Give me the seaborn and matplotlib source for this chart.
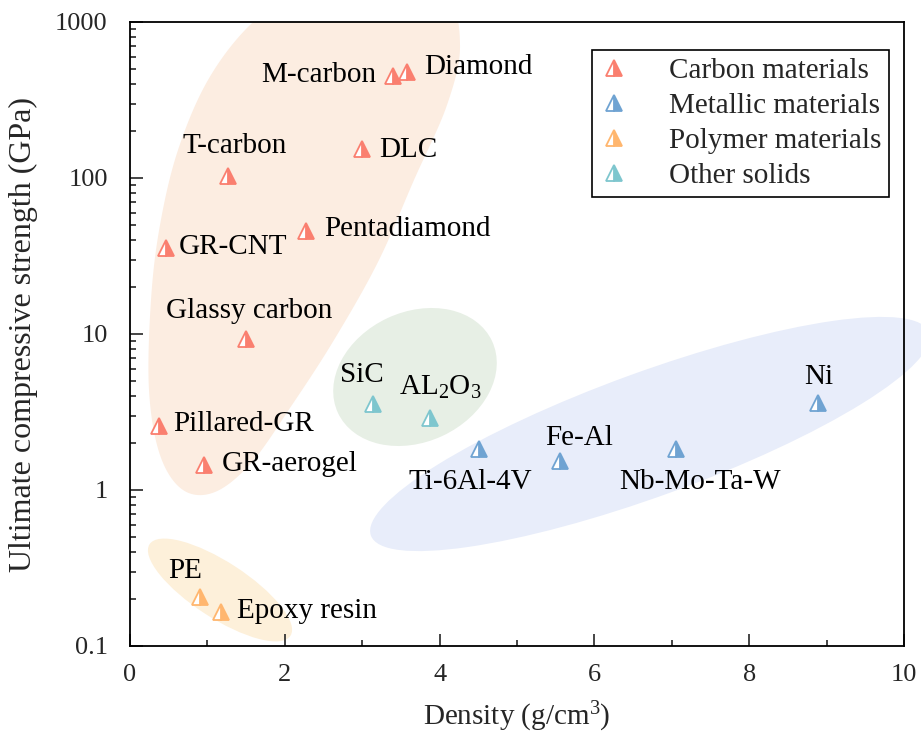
import matplotlib
matplotlib.use("Agg")
import numpy as np
import pandas as pd
import matplotlib.pyplot as plt
import seaborn as sns
from matplotlib.patches import Ellipse, Polygon
from matplotlib.path import Path
from matplotlib.lines import Line2D
from matplotlib.transforms import Affine2D
from matplotlib.ticker import FixedLocator, MultipleLocator, NullFormatter, LogLocator

# ---- data -------------------------------------------------------------
materials = ["M-carbon", "Diamond", "DLC", "T-carbon", "Pentadiamond", "GR-CNT",
             "Glassy carbon", "Pillared-GR", "GR-aerogel",
             "Ti-6Al-4V", "Fe-Al", "Nb-Mo-Ta-W", "Ni",
             "PE", "Epoxy resin",
             "SiC", r"AL$_2$O$_3$"]
density = [3.40, 3.58, 3.00, 1.27, 2.27, 0.47,
           1.50, 0.37, 0.96,
           4.51, 5.56, 7.05, 8.89,
           0.90, 1.18,
           3.14, 3.88]
strength = [451, 478, 153, 103, 45.7, 35.6,
            9.3, 2.57, 1.45,
            1.83, 1.53, 1.83, 3.61,
            0.206, 0.165,
            3.56, 2.90]
group = ["Carbon materials"] * 9 + ["Metallic materials"] * 4 + \
        ["Polymer materials"] * 2 + ["Other solids"] * 2

groups = ["Carbon materials", "Metallic materials", "Polymer materials", "Other solids"]
colors = ["#FA7F6F", "#6FA3D2", "#FFB66E", "#7EC6CE"]

x_ticks = [0, 2, 4, 6, 8, 10]
y_ticks = [0.1, 1, 10, 100, 1000]
y_tick_labels = ["0.1", "1", "10", "100", "1000"]

df = pd.DataFrame({"material": materials, "density": density,
                   "strength": strength, "group": group})

# label placement: (dx, dy) in pixels from the marker, horizontal alignment
label_style = {
    "M-carbon": (-17, 1, "right"),
    "Diamond": (17, 5, "left"),
    "DLC": (17, -1, "left"),
    "T-carbon": (6, 30, "center"),
    "Pentadiamond": (18, 2, "left"),
    "GR-CNT": (12, 1, "left"),
    "Glassy carbon": (3, 28, "center"),
    "Pillared-GR": (15, 2, "left"),
    "GR-aerogel": (17, 1, "left"),
    "Ti-6Al-4V": (-9, -33, "center"),
    "Fe-Al": (19, 23, "center"),
    "Nb-Mo-Ta-W": (24, -33, "center"),
    "Ni": (1, 26, "center"),
    "PE": (-15, 26, "center"),
    "Epoxy resin": (16, 1, "left"),
    "SiC": (-11, 29, "center"),
    r"AL$_2$O$_3$": (10, 30, "center"),
}

# ---- style ------------------------------------------------------------
sns.set_style("ticks")
plt.rcParams["font.family"] = ["Liberation Serif", "DejaVu Serif"]
plt.rcParams["mathtext.fontset"] = "custom"
plt.rcParams["mathtext.rm"] = "Liberation Serif"
plt.rcParams["mathtext.it"] = "Liberation Serif:italic"

W, H = 921, 733
fig = plt.figure(figsize=(W / 100, H / 100), dpi=100)
ax_l, ax_r, ax_t, ax_b = 130, 904, 22, 646
ax = fig.add_axes([ax_l / W, (H - ax_b) / H, (ax_r - ax_l) / W, (ax_b - ax_t) / H])
ax_w, ax_h = ax_r - ax_l, ax_b - ax_t

# shaded group regions, defined in axes pixel units (origin at lower-left corner)
px = Affine2D().scale(1 / ax_w, 1 / ax_h) + ax.transAxes


def smooth_closed(points, samples=40):
    """Densely sampled closed Catmull-Rom curve through the given points."""
    p = np.asarray(points, float)
    n = len(p)
    t = np.linspace(0, 1, samples, endpoint=False)[:, None]
    out = []
    for i in range(n):
        p0, p1, p2, p3 = p[i - 1], p[i], p[(i + 1) % n], p[(i + 2) % n]
        c1, c2 = p1 + (p2 - p0) / 6, p2 - (p3 - p1) / 6
        out.append((1 - t) ** 3 * p1 + 3 * (1 - t) ** 2 * t * c1
                   + 3 * (1 - t) * t ** 2 * c2 + t ** 3 * p2)
    return np.vstack(out)


carbon_outline = [(300, -10), (380, -30), (445, -5), (460, 45), (447, 105),
                  (414, 180), (378, 262), (334, 340), (292, 405), (252, 462),
                  (215, 492), (183, 490), (160, 455), (149, 390), (151, 300),
                  (160, 225), (178, 150), (208, 80), (250, 25)]
carbon_xy = smooth_closed([(x - ax_l, ax_b - y) for x, y in carbon_outline])
carbon_xy[:, 1] = np.minimum(carbon_xy[:, 1], ax_h)   # keep inside the frame
ax.add_patch(Polygon(carbon_xy, closed=True, transform=px,
                     facecolor="#FCEDE1", edgecolor="none", zorder=0))

regions = [
    ((285, 269), 170, 130, 25, "#E7EFE5", True),     # other solids
    ((520, 212), 594, 124, 20, "#E8EDFA", False),    # metallic
    ((90, 56), 168, 56, -33, "#FDF0DA", True),       # polymer
]
for (cx, cy), w, h, ang, fc, clip in regions:
    ax.add_patch(Ellipse((cx, cy), w, h, angle=ang, transform=px, facecolor=fc,
                         edgecolor="none", zorder=0, clip_on=clip))

palette = dict(zip(groups, colors))
sns.lineplot(data=df, x="density", y="strength", hue="group", hue_order=groups,
             palette=palette, units="material", estimator=None, sort=False,
             linestyle="", marker="^", markersize=12, markeredgewidth=1.3,
             fillstyle="right", markerfacecoloralt="white", legend=False,
             ax=ax, zorder=3)
for line in ax.lines:
    line.set_markeredgecolor(line.get_color())
    line.set_markerfacecolor(line.get_color())

ax.set_yscale("log")
ax.set_xlim(0, 10)
ax.set_ylim(0.1, 1000)

for name, xv, yv in zip(materials, density, strength):
    dx, dy, ha = label_style[name]
    ax.annotate(name, (xv, yv), xytext=(dx, dy), textcoords="offset pixels",
                ha=ha, va="center", fontsize=21, color="black", zorder=4)

ax.xaxis.set_major_locator(FixedLocator(x_ticks))
ax.xaxis.set_minor_locator(MultipleLocator(1))
ax.set_xticklabels([str(t) for t in x_ticks])
ax.yaxis.set_major_locator(FixedLocator(y_ticks))
ax.set_yticklabels(y_tick_labels)
ax.yaxis.set_minor_locator(LogLocator(base=10, subs=np.arange(2, 10)))
ax.yaxis.set_minor_formatter(NullFormatter())

ax.tick_params(which="major", direction="in", length=9, width=1.2,
               labelsize=19, top=False, right=False)
ax.tick_params(axis="y", which="major", pad=16)
ax.tick_params(axis="x", which="major", pad=13)
ax.tick_params(which="minor", direction="in", length=4.5, width=1.2,
               top=False, right=False)
for s in ax.spines.values():
    s.set_linewidth(1.3)
    s.set_color("black")

ax.set_xlabel("Density (g/cm$^3$)", fontsize=21, labelpad=10)
ax.set_ylabel("Ultimate compressive strength (GPa)", fontsize=23, labelpad=12)

handles = [Line2D([], [], linestyle="", marker="^", markersize=12,
                  markeredgewidth=1.3, color=c, fillstyle="right",
                  markerfacecoloralt="white") for c in colors]
leg = ax.legend(handles, groups, loc="upper right",
                bbox_to_anchor=(1 - 15 / ax_w, 1 - 28 / ax_h),
                borderaxespad=0, fontsize=21, frameon=True, fancybox=False,
                edgecolor="black", framealpha=1, handlelength=1.0,
                handletextpad=1.39, labelspacing=0.3, borderpad=0.25)
leg.get_frame().set_linewidth(1.2)
leg.set_zorder(5)

fig.savefig("out.png", dpi=100)
